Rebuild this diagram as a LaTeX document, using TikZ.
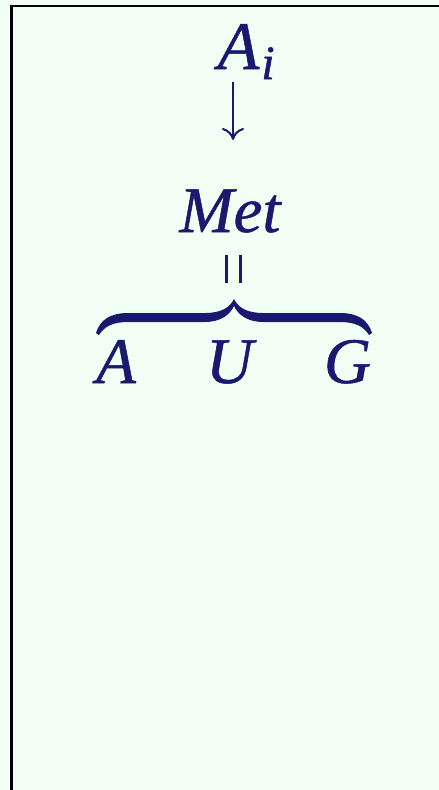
\documentclass[tikz,border=0pt]{standalone}
\usepackage{fontspec}
\setmainfont{Liberation Serif}
\usetikzlibrary{arrows.meta}
\definecolor{ink}{HTML}{191970}
\definecolor{bg}{HTML}{F2FFF4}
\newcommand{\heavytext}[1]{\special{pdf:literal direct 2 Tr 0.5 w}#1\special{pdf:literal direct 0 Tr}}
\tikzset{
  lbl/.style={inner sep=0pt, outer sep=0pt, anchor=base, text=ink, font=\itshape\fontsize{65}{65}\selectfont},
  big/.style={lbl, font=\itshape\fontsize{68}{68}\selectfont},
  sub/.style={lbl, font=\itshape\fontsize{48}{48}\selectfont},
  inkline/.style={draw=ink, line width=2.5pt},
}
\begin{document}
\begin{tikzpicture}[x=1pt, y=-1pt]
\fill[bg] (0,0) rectangle (439,790);
\useasboundingbox (0,0) rectangle (439,790);
\draw[line width=2.6pt, black] (11.3,790) -- (11.3,6) -- (439,6);
% A_i
\node[big] (Ai) at (238.5,69) {\heavytext{A}};
\node[sub] (isub) at (268,79) {\heavytext{i}};
% arrow
\coordinate (arrs) at (233,82);
\coordinate (arre) at (233,140);
\draw[draw=ink, line width=2pt, -{To[length=12pt,width=22pt]}] (arrs) -- (arre);
% Met
\node[lbl] (Met) at (230,232) {\heavytext{Met}};
% rotated equals
\coordinate (e1a) at (226.5,255); \coordinate (e1b) at (226.5,283);
\coordinate (e2a) at (240.5,255); \coordinate (e2b) at (240.5,283);
\draw[inkline] (e1a) -- (e1b);
\draw[inkline] (e2a) -- (e2b);
% brace
\fill[ink] (96,333)
  .. controls (100,320) and (110,313) .. (128,313)
  -- (205,313)
  .. controls (222,313) and (230,307) .. (234,299)
  .. controls (238,307) and (246,313) .. (263,313)
  -- (340,313)
  .. controls (358,313) and (368,320) .. (372,333)
  -- (369,335)
  .. controls (364,327) and (356,322) .. (340,322)
  -- (263,322)
  .. controls (248,322) and (238,315) .. (234,306)
  .. controls (230,315) and (220,322) .. (205,322)
  -- (128,322)
  .. controls (112,322) and (104,327) .. (99,335)
  -- cycle;
% A U G
\node[lbl] (nA) at (116,383) {\heavytext{A}};
\node[lbl] (nU) at (229.5,383) {\heavytext{U}};
\node[lbl] (nG) at (347.5,383) {\heavytext{G}};
\end{tikzpicture}
\end{document}
